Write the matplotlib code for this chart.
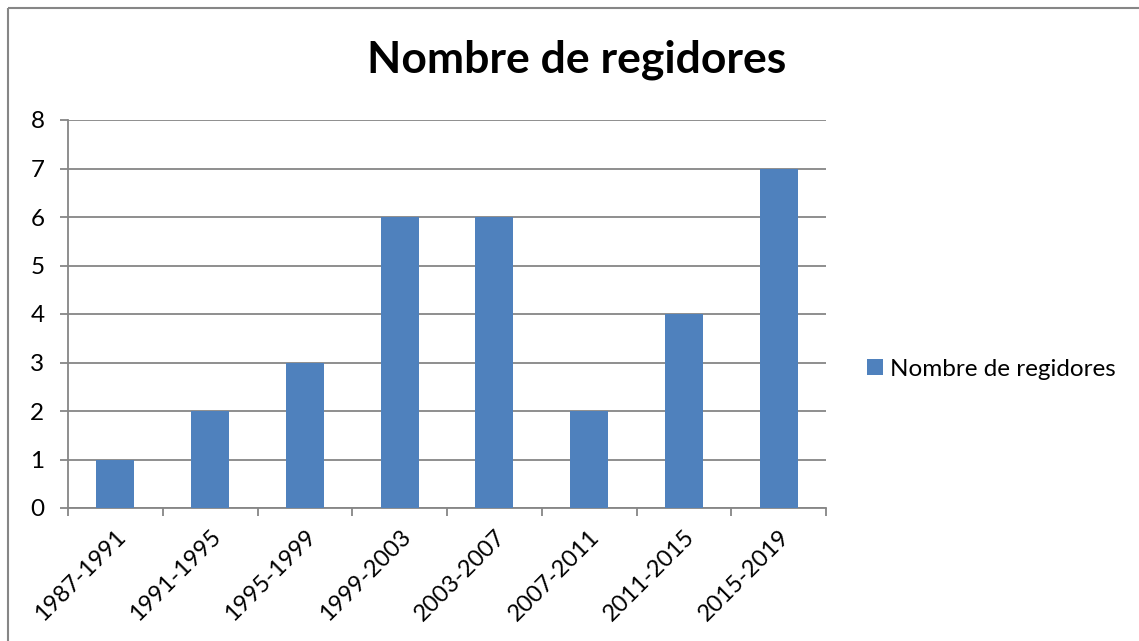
import matplotlib
matplotlib.use("Agg")
import matplotlib.pyplot as plt
from matplotlib.lines import Line2D
from matplotlib.patches import Patch, Rectangle

categories = ["1987-1991", "1991-1995", "1995-1999", "1999-2003",
              "2003-2007", "2007-2011", "2011-2015", "2015-2019"]
values = [1, 2, 3, 6, 6, 2, 4, 7]
series_name = "Nombre de regidores"
title = "Nombre de regidores"

plt.rcParams['font.family'] = ['Lato', 'DejaVu Sans']

W, H = 1139, 641
fig = plt.figure(figsize=(W / 100, H / 100), dpi=100)
fig.patch.set_facecolor("white")
fig.patch.set_edgecolor("white")
fig.patch.set_linewidth(0)

ax = fig.add_axes([68 / W, 1 - 508 / H, (826 - 68) / W, (508 - 120) / H])

bar_color = "#4F81BD"
grid_color = "#868686"
x = list(range(len(categories)))
ax.bar(x, values, width=0.4, color=bar_color, zorder=3)

ax.set_xlim(-0.5, len(categories) - 0.5)
ax.set_ylim(0, 8)
ax.set_yticks(range(0, 9))
ax.yaxis.grid(True, color=grid_color, linewidth=1.3, zorder=0)

for s in ["top", "right"]:
    ax.spines[s].set_visible(False)
for s in ["left", "bottom"]:
    ax.spines[s].set_color(grid_color)
    ax.spines[s].set_linewidth(1.3)

ax.tick_params(axis="y", length=6, width=1.3, color=grid_color, labelsize=17.5, pad=11, labelcolor="black")
# x ticks at category boundaries
ax.set_xticks([i - 0.5 for i in range(len(categories) + 1)], minor=False)
ax.set_xticklabels([])
ax.tick_params(axis="x", which="major", length=6, width=1.3, color=grid_color)
ax.set_xticks(x, minor=True)
ax.set_xticklabels(categories, minor=True, rotation=45, ha="right", va="top",
                   rotation_mode="anchor", fontsize=17)
ax.tick_params(axis="x", which="minor", length=0, pad=13)

fig.text(577 / W, 1 - 60 / H, title, ha="center", va="center",
         fontsize=32, fontweight="bold")

handles = [Patch(facecolor=bar_color, edgecolor="none", label=series_name)]
fig.legend(handles=handles, loc="center left", bbox_to_anchor=(867 / W, 1 - 369 / H),
           frameon=False, fontsize=17.5, handlelength=0.65, handleheight=0.65,
           handletextpad=0.3, borderpad=0, borderaxespad=0)

# outer chart border (top and left visible only)
fig.add_artist(Line2D([8 / W, 1.0], [1 - 8 / H, 1 - 8 / H], transform=fig.transFigure,
                      color=grid_color, linewidth=1.5, solid_capstyle="butt"))
fig.add_artist(Line2D([8 / W, 8 / W], [0.0, 1 - 8 / H], transform=fig.transFigure,
                      color=grid_color, linewidth=1.5, solid_capstyle="butt"))

fig.savefig("out.png", dpi=100)
